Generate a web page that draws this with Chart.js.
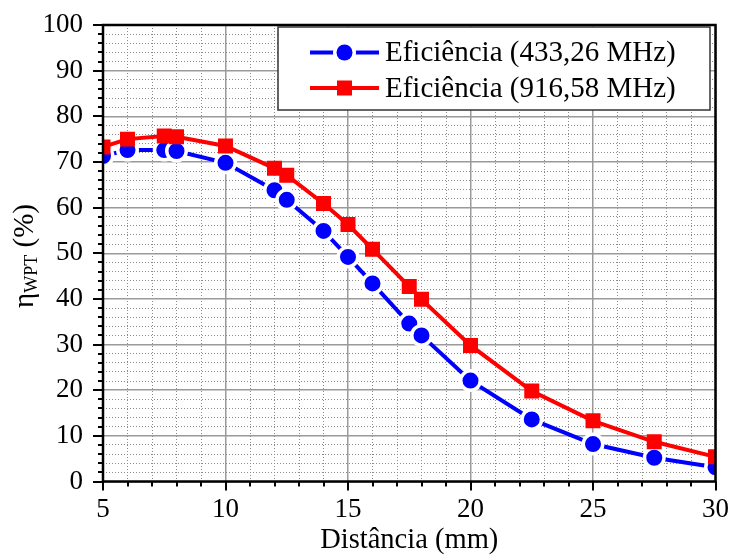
<!DOCTYPE html>
<html>
<head>
<meta charset="utf-8">
<script src="https://cdn.jsdelivr.net/npm/chart.js@4.4.1/dist/chart.umd.min.js"></script>
<style>
	html, body { margin: 0; padding: 0; background: #fff; }
	#wrap { width: 732px; height: 557px; }
</style>
</head>
<body>
<div id="wrap"><canvas id="grafico"></canvas></div>
<script>
const distancias = [5, 6, 7.5, 8, 10, 12, 12.5, 14, 15, 16, 17.5, 18, 20, 22.5, 25, 27.5, 30];
const efic433 = [71.3, 72.6, 72.6, 72.4, 69.8, 63.8, 61.7, 54.9, 49.2, 43.4, 34.6, 32.0, 22.1, 13.6, 8.2, 5.2, 3.1];
const efic916 = [73.3, 75.0, 75.7, 75.5, 73.5, 68.6, 67.1, 60.9, 56.3, 50.9, 42.7, 39.9, 29.8, 19.8, 13.3, 8.7, 5.4];
const rotulos = ['Eficiência (433,26 MHz)', 'Eficiência (916,58 MHz)'];
const tituloX = 'Distância (mm)';
const tituloY = ['η', 'WPT', ' (%)'];

const FONTE = 'Liberation Serif';
const AZUL = '#0000ff';
const VERMELHO = '#ff0000';

Chart.defaults.font.family = FONTE;
Chart.defaults.font.size = 27;
Chart.defaults.color = '#000';

function pontos(ys) {
	return distancias.map((d, i) => ({ x: d, y: ys[i] }));
}

// ticks, moldura, legenda e títulos
const moldura = {
	id: 'moldura',
	afterDraw(chart) {
		const ctx = chart.ctx;
		const a = chart.chartArea;
		const sx = chart.scales.x;
		const sy = chart.scales.y;
		ctx.save();
		ctx.strokeStyle = '#000';
		ctx.lineWidth = 2;
		sy.ticks.forEach(t => {
			const y = Math.round(sy.getPixelForValue(t.value));
			const len = t.value % 10 === 0 ? 10 : 5;
			ctx.beginPath();
			ctx.moveTo(a.left, y);
			ctx.lineTo(a.left - len, y);
			ctx.stroke();
		});
		sx.ticks.forEach(t => {
			const x = Math.round(sx.getPixelForValue(t.value));
			const len = t.value % 5 === 0 ? 9 : 5;
			ctx.beginPath();
			ctx.moveTo(x, a.bottom);
			ctx.lineTo(x, a.bottom + len);
			ctx.stroke();
		});
		ctx.lineWidth = 2.5;
		ctx.strokeRect(a.left, a.top, a.right - a.left, a.bottom - a.top);

		// legenda
		const lx = 278, ly = 27, lw = 432, lh = 83;
		ctx.fillStyle = '#fff';
		ctx.fillRect(lx, ly, lw, lh);
		ctx.strokeStyle = '#333';
		ctx.lineWidth = 1.5;
		ctx.strokeRect(lx, ly, lw, lh);
		const linhas = [52.5, 88];
		chart.data.datasets.forEach((ds, i) => {
			const y = linhas[i];
			ctx.strokeStyle = ds.borderColor;
			ctx.lineWidth = 4;
			ctx.beginPath();
			ctx.moveTo(310, y);
			ctx.lineTo(379, y);
			ctx.stroke();
			if (ds.pointStyle === 'circle') {
				ctx.fillStyle = '#fff';
				ctx.beginPath();
				ctx.arc(344.5, y, 11.5, 0, Math.PI * 2);
				ctx.fill();
				ctx.fillStyle = ds.borderColor;
				ctx.beginPath();
				ctx.arc(344.5, y, 8, 0, Math.PI * 2);
				ctx.fill();
			} else {
				ctx.fillStyle = ds.borderColor;
				ctx.fillRect(344.5 - 7.5, y - 7.5, 15, 15);
			}
			ctx.fillStyle = '#000';
			ctx.font = '29px "' + FONTE + '"';
			ctx.textAlign = 'left';
			ctx.textBaseline = 'middle';
			ctx.fillText(ds.label, 385, y + 1);
		});

		// título do eixo x
		ctx.fillStyle = '#000';
		ctx.font = '28.5px "' + FONTE + '"';
		ctx.textAlign = 'center';
		ctx.textBaseline = 'alphabetic';
		ctx.fillText(tituloX, (a.left + a.right) / 2, 548);

		// título do eixo y, com subscrito
		ctx.translate(33, 256);
		ctx.rotate(-Math.PI / 2);
		ctx.textAlign = 'left';
		const fGrande = '29px "' + FONTE + '"';
		const fPeq = '18px "' + FONTE + '"';
		ctx.font = fGrande;
		const w1 = ctx.measureText(tituloY[0]).width;
		const w3 = ctx.measureText(tituloY[2]).width;
		ctx.font = fPeq;
		const w2 = ctx.measureText(tituloY[1]).width;
		let x0 = -(w1 + w2 + w3) / 2;
		ctx.font = fGrande;
		ctx.fillText(tituloY[0], x0, 0);
		ctx.font = fPeq;
		ctx.fillText(tituloY[1], x0 + w1, 4);
		ctx.font = fGrande;
		ctx.fillText(tituloY[2], x0 + w1 + w2, 0);
		ctx.restore();
	}
};

const grafico = new Chart(document.getElementById('grafico'), {
	type: 'line',
	data: {
		datasets: [{
			label: rotulos[0],
			data: pontos(efic433),
			borderColor: AZUL,
			borderWidth: 4,
			pointStyle: 'circle',
			pointRadius: 9.75,
			pointBackgroundColor: AZUL,
			pointBorderColor: '#fff',
			pointBorderWidth: 3.5,
			tension: 0,
			clip: 0,
			order: 2
		}, {
			label: rotulos[1],
			data: pontos(efic916),
			borderColor: VERMELHO,
			borderWidth: 4,
			pointStyle: 'rect',
			pointRadius: 10.6,
			pointBackgroundColor: VERMELHO,
			pointBorderColor: VERMELHO,
			pointBorderWidth: 0,
			tension: 0,
			clip: 0,
			order: 1
		}]
	},
	options: {
		responsive: true,
		maintainAspectRatio: false,
		animation: false,
		layout: { padding: { top: 25, right: 16.5, left: 0, bottom: 0 } },
		plugins: {
			legend: { display: false },
			tooltip: { enabled: false }
		},
		scales: {
			x: {
				type: 'linear',
				min: 5,
				max: 30,
				afterFit: s => {
					s.height = 75.5;
					s.paddingLeft = 0;
					s.paddingRight = 0;
				},
				ticks: {
					stepSize: 1,
					maxTicksLimit: 100,
					autoSkip: false,
					maxRotation: 0,
					padding: 12,
					callback: v => (v % 5 === 0 ? v : '')
				},
				grid: {
					drawTicks: false,
					color: c => (c.tick.value % 5 === 0 ? '#9a9a9a' : '#8a8a8a'),
					lineWidth: c => (c.tick.value % 5 === 0 ? 1.5 : 1)
				},
				border: {
					display: false,
					dash: c => (c.tick && c.tick.value % 5 === 0 ? [] : [1, 2])
				}
			},
			y: {
				min: 0,
				max: 100,
				afterFit: s => {
					s.width = 103;
					s.paddingTop = 0;
					s.paddingBottom = 0;
				},
				ticks: {
					stepSize: 2,
					maxTicksLimit: 100,
					autoSkip: false,
					padding: 20,
					callback: v => (v % 10 === 0 ? v : '')
				},
				grid: {
					drawTicks: false,
					color: c => (c.tick.value % 10 === 0 ? '#9a9a9a' : '#8a8a8a'),
					lineWidth: c => (c.tick.value % 10 === 0 ? 1.5 : 1)
				},
				border: {
					display: false,
					dash: c => (c.tick && c.tick.value % 10 === 0 ? [] : [1, 2])
				}
			}
		}
	},
	plugins: [moldura]
});
</script>
</body>
</html>
